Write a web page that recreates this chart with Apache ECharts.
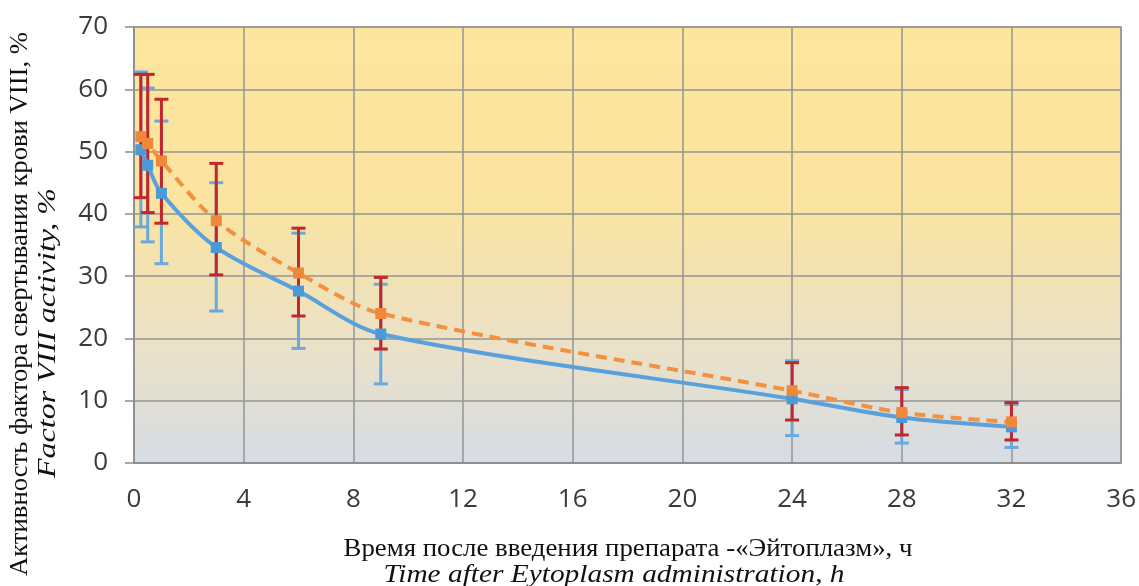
<!DOCTYPE html>
<html>
<head>
<meta charset="utf-8">
<script src="https://cdn.jsdelivr.net/npm/echarts@6/dist/echarts.min.js"></script>
<style>
html,body{margin:0;padding:0;background:#fff;}
#chart{width:1139px;height:586px;}
</style>
</head>
<body>
<div id="chart"></div>
<script>
// ---- data ----
const hours = [0.25, 0.5, 1, 3, 6, 9, 24, 28, 32];
const blueMean = [50.3, 47.8, 43.3, 34.6, 27.6, 20.7, 10.3, 7.3, 5.8];
const blueHigh = [62.8, 60.2, 54.9, 45.0, 36.9, 28.7, 16.4, 11.8, 9.4];
const blueLow  = [37.9, 35.5, 32.0, 24.4, 18.4, 12.7, 4.4, 3.2, 2.5];
const orangeMean = [52.4, 51.3, 48.5, 38.9, 30.5, 24.0, 11.6, 8.1, 6.6];
const orangeHigh = [62.4, 62.4, 58.4, 48.1, 37.7, 29.8, 16.1, 12.1, 9.7];
const orangeLow  = [42.6, 40.2, 38.5, 30.2, 23.6, 18.3, 6.9, 4.5, 3.7];
const xTitle1 = 'Время после введения препарата -«Эйтоплазм», ч';
const xTitle2 = 'Time after Eytoplasm administration, h';
const yTitle1 = 'Активность фактора свертывания крови VIII, %';
const yTitle2 = 'Factor VIII activity, %';

const chart = echarts.init(document.getElementById('chart'), null, {renderer: 'canvas'});

const mctx = document.createElement('canvas').getContext('2d');
const FS = 26;
const FAM = "'Liberation Serif', 'Times New Roman', serif";
function fitScale(text, italic, target) {
  mctx.font = (italic ? 'italic ' : '') + FS + 'px ' + FAM;
  return target / mctx.measureText(text).width;
}

function errRender(color) {
  return function (params, api) {
    const x = api.value(0), lo = api.value(1), hi = api.value(2);
    const pHi = api.coord([x, hi]);
    const pLo = api.coord([x, lo]);
    const w = 7;
    const st = {stroke: color, lineWidth: 3};
    return {
      type: 'group',
      children: [
        {type: 'line', shape: {x1: pHi[0], y1: pHi[1], x2: pLo[0], y2: pLo[1]}, style: st},
        {type: 'line', shape: {x1: pHi[0] - w, y1: pHi[1], x2: pHi[0] + w, y2: pHi[1]}, style: st},
        {type: 'line', shape: {x1: pLo[0] - w, y1: pLo[1], x2: pLo[0] + w, y2: pLo[1]}, style: st}
      ]
    };
  };
}

function titleText(text, italic, x, y, target, rot) {
  const s = fitScale(text, italic, target);
  return {
    type: 'text', x: x, y: y, rotation: rot, scaleX: s, silent: true,
    style: {
      text: text, fill: '#111', fontFamily: FAM, fontSize: FS,
      fontStyle: italic ? 'italic' : 'normal',
      align: 'center', verticalAlign: 'middle'
    }
  };
}

const option = {
  animation: false,
  backgroundColor: '#ffffff',
  grid: {
    left: 134, right: 16, top: 27, bottom: 123,
    show: true,
    backgroundColor: new echarts.graphic.LinearGradient(0, 0, 0, 1, [
      {offset: 0, color: '#fde69c'},
      {offset: 0.4, color: '#fae4a0'},
      {offset: 0.72, color: '#ebe1c5'},
      {offset: 1, color: '#d6dce5'}
    ]),
    borderColor: '#a3a3a3', borderWidth: 1.5
  },
  xAxis: {
    type: 'value', min: 0, max: 36, interval: 4,
    axisLine: {show: true, lineStyle: {color: '#8c8c8c', width: 1.5}},
    axisTick: {show: false},
    axisLabel: {color: '#3a3a3a', fontFamily: 'Open Sans', fontSize: 26, margin: 24},
    splitLine: {show: true, lineStyle: {color: '#959595', width: 1.5}}
  },
  yAxis: {
    type: 'value', min: 0, max: 70, interval: 10,
    axisLine: {show: true, lineStyle: {color: '#8c8c8c', width: 1.5}},
    axisTick: {show: true, inside: false, length: 9, lineStyle: {color: '#8c8c8c', width: 1.5}},
    axisLabel: {color: '#3a3a3a', fontFamily: 'Open Sans', fontSize: 26, margin: 26},
    splitLine: {show: true, lineStyle: {color: '#959595', width: 1.5}}
  },
  graphic: [
    titleText(xTitle1, false, 628, 549, 569, 0),
    titleText(xTitle2, true, 614, 575, 461, 0),
    titleText(yTitle1, false, 20, 304, 544, Math.PI / 2),
    titleText(yTitle2, true, 48, 333, 290, Math.PI / 2)
  ],
  series: [
    {
      type: 'custom', name: 'blueErr', z: 2,
      renderItem: errRender('#6aa9dc'),
      encode: {x: 0, y: [1, 2]},
      data: hours.map((h, i) => [h, blueLow[i], blueHigh[i]])
    },
    {
      type: 'custom', name: 'orangeErr', z: 3,
      renderItem: errRender('#c1272d'),
      encode: {x: 0, y: [1, 2]},
      data: hours.map((h, i) => [h, orangeLow[i], orangeHigh[i]])
    },
    {
      type: 'line', name: 'blue', z: 4,
      data: hours.map((h, i) => [h, blueMean[i]]),
      smooth: 0.3,
      symbol: 'rect', symbolSize: 11, showSymbol: true,
      lineStyle: {color: '#59a0dc', width: 4},
      itemStyle: {color: '#4a9ad8'}
    },
    {
      type: 'line', name: 'orange', z: 5,
      data: hours.map((h, i) => [h, orangeMean[i]]),
      smooth: 0.3,
      symbol: 'rect', symbolSize: 11, showSymbol: true,
      lineStyle: {color: '#f2913f', width: 4, type: [11, 7]},
      itemStyle: {color: '#f0883b'}
    }
  ]
};
chart.setOption(option);
</script>
</body>
</html>
